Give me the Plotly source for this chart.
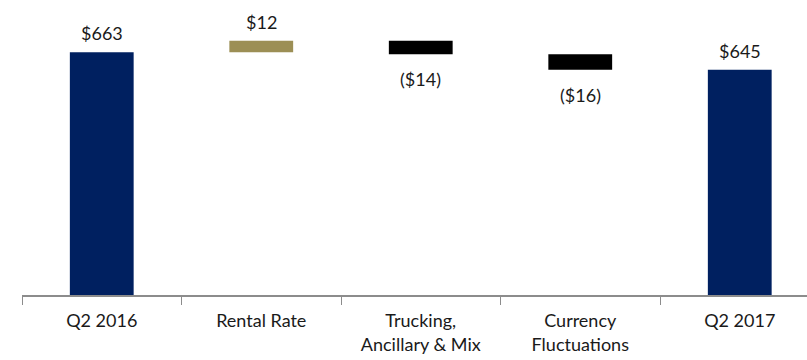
import plotly.graph_objects as go

categories = ["Q2 2016", "Rental Rate", "Trucking,<br>Ancillary & Mix", "Currency<br>Fluctuations", "Q2 2017"]
values = [663, 12, -14, -16, 645]
measures = ["total", "relative", "relative", "relative", "total"]
labels = ["$663", "$12", "($14)", "($16)", "$645"]

AXIS_MIN = 412
NAVY = "#002060"
GOLD = "#9C8F55"
NEG = "#000000"

bases, heights, colors = [], [], []
running = 0
for v, m in zip(values, measures):
    if m == "total":
        bases.append(AXIS_MIN)
        heights.append(v - AXIS_MIN)
        colors.append(NAVY)
        running = v
    else:
        start = running
        running = running + v
        bases.append(min(start, running))
        heights.append(abs(v))
        colors.append(GOLD if v > 0 else NEG)

fig = go.Figure()
fig.add_trace(go.Bar(x=categories, y=heights, base=bases, marker=dict(color=colors, line=dict(width=0)),
                     width=0.4, hoverinfo="skip"))

for i, (c, v, m, lab) in enumerate(zip(categories, values, measures, labels)):
    top = bases[i] + heights[i]
    if m == "relative" and v < 0:
        fig.add_annotation(x=c, y=bases[i], text=lab, showarrow=False, yanchor="middle", yshift=-25,
                           font=dict(size=18, color="#1a1a1a", family="Lato"))
    else:
        fig.add_annotation(x=c, y=top, text=lab, showarrow=False, yanchor="middle", yshift=19,
                           font=dict(size=18, color="#1a1a1a", family="Lato"))

fig.update_layout(
    width=807, height=360,
    margin=dict(l=22, r=0, t=0, b=65),
    paper_bgcolor="white", plot_bgcolor="white",
    showlegend=False,
    font=dict(family="Lato", size=18, color="#1a1a1a"),
    bargap=0.6,
)
fig.update_xaxes(type="category", range=[-0.5, -0.5 + 785 / 159.5], showline=True, linecolor="#8c8c8c",
                 linewidth=1.5, ticks="outside", tickson="boundaries", ticklen=8, tickcolor="#8c8c8c",
                 tickwidth=1, showgrid=False, ticklabelstandoff=9, zeroline=False)
fig.update_yaxes(range=[AXIS_MIN, AXIS_MIN + 295 / 0.967], visible=False, showgrid=False, zeroline=False)

fig.write_html("out.html")
